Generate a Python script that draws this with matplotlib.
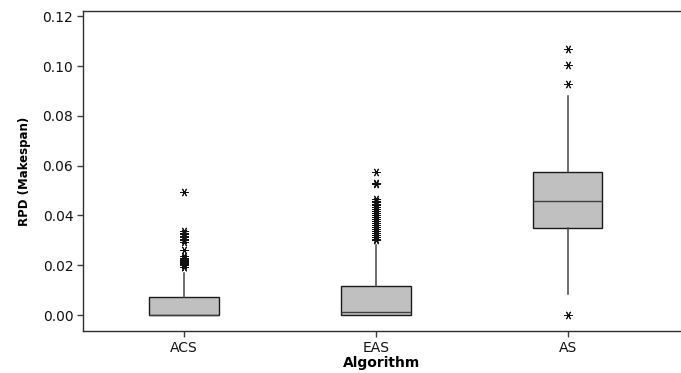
import matplotlib
matplotlib.use("Agg")
import matplotlib.pyplot as plt

# Boxplot summaries (RPD of makespan)
algorithms = ["ACS", "EAS", "AS"]
q1 = [0.0, 0.0, 0.0348]
median = [0.0, 0.0011, 0.0459]
q3 = [0.0073, 0.0118, 0.0573]
whisker_low = [0.0, 0.0, 0.0084]
whisker_high = [0.0167, 0.0281, 0.088]

outliers_acs = [0.0495, 0.0336, 0.0330, 0.0325, 0.0318, 0.0312, 0.0306, 0.0300, 0.0294,
                0.0262, 0.0236, 0.0230, 0.0226, 0.0222, 0.0218, 0.0214, 0.0210, 0.0205,
                0.0200, 0.0195, 0.0191]
outliers_eas = [0.0576, 0.0531, 0.0525, 0.0466, 0.0460, 0.0453, 0.0446, 0.0440, 0.0432,
                0.0424, 0.0416, 0.0408, 0.0400, 0.0392, 0.0384, 0.0376, 0.0368, 0.0360,
                0.0352, 0.0344, 0.0336, 0.0328, 0.0320, 0.0312, 0.0306, 0.0300]
outliers_as = [0.1067, 0.1004, 0.0927, 0.0]
outliers = [outliers_acs, outliers_eas, outliers_as]

stats = []
for i, name in enumerate(algorithms):
    stats.append({
        "label": name,
        "q1": q1[i],
        "med": median[i],
        "q3": q3[i],
        "whislo": whisker_low[i],
        "whishi": whisker_high[i],
        "fliers": outliers[i],
    })

fig = plt.figure(figsize=(6.81, 3.73), dpi=100)
ax = fig.add_axes([83 / 681, 42 / 373, 1 - 83 / 681, 320 / 373])

ax.bxp(stats, positions=[1, 2, 3], widths=0.36, patch_artist=True, showcaps=False,
       boxprops=dict(facecolor="#c0c0c0", edgecolor="#1a1a1a", linewidth=1.0),
       medianprops=dict(color="#404040", linewidth=1.0),
       whiskerprops=dict(color="#454545", linewidth=1.1),
       flierprops=dict(marker=(6, 2, 90), markersize=6, markeredgecolor="#111111",
                       markerfacecolor="#111111", markeredgewidth=0.7, linestyle="none"))

ax.set_xlim(0.474, 3.589)
ax.set_ylim(-0.0064, 0.1221)
ax.set_yticks([0.0, 0.02, 0.04, 0.06, 0.08, 0.10, 0.12])
ax.set_yticklabels(["0.00", "0.02", "0.04", "0.06", "0.08", "0.10", "0.12"])
ax.set_xticks([1, 2, 3])
ax.set_xticklabels(algorithms)

ax.spines["right"].set_visible(False)
for s in ["left", "top", "bottom"]:
    ax.spines[s].set_color("#303030")
    ax.spines[s].set_linewidth(1.0)
ax.tick_params(axis="both", direction="out", length=4, width=1, color="#404040",
               labelsize=10, labelcolor="#111111", pad=3)

ax.set_ylabel("RPD (Makespan)", fontsize=8.5, fontweight="bold", labelpad=8)
ax.set_xlabel("Algorithm", fontsize=10, fontweight="bold", labelpad=1)

fig.savefig("out.png", dpi=100)
